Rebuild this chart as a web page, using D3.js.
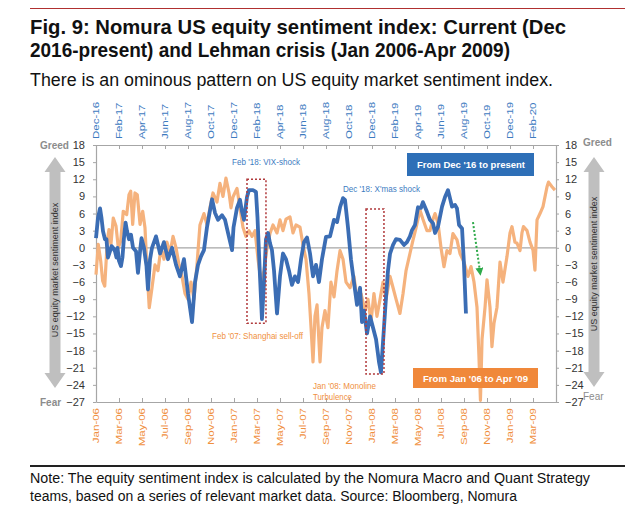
<!DOCTYPE html>
<html><head><meta charset="utf-8">
<script src="https://cdn.jsdelivr.net/npm/d3@7"></script>
<style>body{margin:0;background:#fff}svg{display:block}</style>
</head><body>
<svg id="c" width="631" height="524"></svg>
<script>
// ---- tick labels ----
const topTickLabels = ["Dec-16","Feb-17","Apr-17","Jun-17","Aug-17","Oct-17","Dec-17","Feb-18","Apr-18","Jun-18","Aug-18","Oct-18","Dec-18","Feb-19","Apr-19","Jun-19","Aug-19","Oct-19","Dec-19","Feb-20"];
const bottomTickLabels = ["Jan-06","Mar-06","May-06","Jul-06","Sep-06","Nov-06","Jan-07","Mar-07","May-07","Jul-07","Sep-07","Nov-07","Jan-08","Mar-08","May-08","Jul-08","Sep-08","Nov-08","Jan-09","Mar-09"];
const yTicks = [18,15,12,9,6,3,0,-3,-6,-9,-12,-15,-18,-21,-24,-27];

// ---- series: [months since Dec 2016, index] ----
const currentSeries = [[0,1.7],[0.17,5.2],[0.35,6.9],[0.48,5.2],[0.61,2.9],[0.78,1.5],[0.91,1.5],[1.04,-1.7],[1.22,-0.6],[1.35,0.3],[1.48,0],[1.65,-0.6],[1.78,-1.7],[1.87,0],[2.00,-2.3],[2.17,-3.2],[2.30,-1.7],[2.43,1.7],[2.57,4.4],[2.70,2.9],[2.87,1.5],[3.04,2.3],[3.22,0],[3.48,-0.6],[3.65,-4.4],[3.83,-0.6],[3.96,1.7],[4.17,0],[4.39,-3.2],[4.52,-7.3],[4.70,-2],[4.87,0],[5.22,2],[5.57,-1],[5.91,1],[6.26,-2],[6.61,0],[6.96,-3],[7.30,-5],[7.65,-2],[8.00,-8],[8.35,-13],[8.61,-6],[8.87,-3],[9.13,-1.5],[9.39,-0.4],[9.65,3.6],[10.09,8.5],[10.35,6.1],[10.61,4.9],[10.96,5.7],[11.22,4.9],[11.48,2.6],[11.83,-0.4],[11.96,3.6],[12.26,7],[12.52,8.4],[12.70,6.3],[12.87,4.9],[13.13,8.9],[13.30,10.1],[13.65,10.1],[13.91,9.8],[14.04,5.4],[14.26,-5],[14.43,-12.5],[14.61,-6],[14.78,1.5],[14.96,2.6],[15.13,0.8],[15.30,-0.4],[15.48,-4],[15.74,-11.5],[16.00,-5],[16.26,-1],[16.52,-2],[16.78,-4],[17.04,-6.5],[17.30,-5],[17.57,-6],[17.83,-2],[18.09,1],[18.35,1.8],[18.61,-1],[18.87,-5],[19.13,-3],[19.39,-6],[19.65,-2],[20.00,1.9],[20.35,2],[20.70,4.9],[20.96,4.5],[21.22,7.1],[21.48,8.7],[21.65,8.4],[21.91,3.6],[22.17,-2],[22.43,-6],[22.70,-10],[22.96,-7],[23.13,-13],[23.30,-11],[23.57,-15],[23.83,-12],[24.09,-14],[24.35,-16],[24.61,-20],[24.78,-21.8],[25.04,-14],[25.22,-8.6],[25.39,-4],[25.57,-1],[25.83,0.5],[26.09,1.5],[26.43,1.4],[26.78,0.5],[27.04,1],[27.30,2],[27.48,3.1],[27.74,4],[28.00,7.1],[28.26,7],[28.43,8],[28.78,6.3],[29.04,4.9],[29.30,4.3],[29.48,2.6],[29.74,3.7],[30.09,7.2],[30.35,8.9],[30.61,10.1],[30.78,8.7],[30.96,7.2],[31.22,7.5],[31.39,6.9],[31.57,4],[31.83,3.4],[32.00,-3],[32.17,-11.5]];

// ---- series: [months since Jan 2006, index] ----
const lehmanSeries = [[0,-4.7],[0.20,0.6],[0.41,-2.3],[0.58,-5.8],[0.76,-6.7],[0.98,1.2],[1.13,3.2],[1.30,0.6],[1.50,5.2],[1.74,3.8],[1.94,0],[2.15,1.2],[2.37,6.4],[2.67,5.8],[2.87,9.3],[3.02,9.9],[3.19,4.1],[3.39,9.6],[3.59,9.3],[3.83,4.1],[4.06,6.4],[4.26,3.5],[4.46,-4.7],[4.63,-10.5],[4.87,-7],[5.13,-3],[5.39,-4],[5.65,0],[5.91,-2],[6.17,1],[6.43,-1],[6.70,2],[6.96,0],[7.22,-3],[7.48,-5],[7.74,-8],[8.00,-9],[8.26,-6],[8.52,-9],[8.78,-3],[9.04,4],[9.39,6],[9.65,4],[9.91,7],[10.17,9.6],[10.52,8],[10.78,11.3],[11.04,9],[11.30,12.2],[11.57,9.6],[11.74,7],[11.91,8.9],[12.26,10.4],[12.52,7],[12.78,3.6],[13.04,2],[13.30,3],[13.57,2],[13.83,3],[14.09,-2],[14.35,-6],[14.61,-4],[14.87,0],[15.13,2.5],[15.39,4],[15.74,2.6],[16.00,4.9],[16.26,3],[16.52,5],[16.87,5.4],[17.13,2.6],[17.39,4],[17.74,3.6],[18.00,0.5],[18.26,-2],[18.52,-8],[18.70,-14],[18.87,-20],[19.04,-12],[19.22,-10],[19.48,-20],[19.65,-14],[19.91,-11],[20.17,-14],[20.43,-6],[20.70,-8.6],[20.96,-4],[21.22,-0.5],[21.48,-2],[21.74,-6],[22.09,-7],[22.43,-5],[22.70,-9],[23.04,-8],[23.39,-11],[23.65,-9],[23.91,-13],[24.17,-8],[24.43,-12],[24.70,-9],[24.96,-6],[25.22,-9],[25.57,-5],[25.83,-7],[26.09,-9],[26.43,-11.5],[26.70,-8],[26.96,-4],[27.30,-1],[27.57,1.4],[27.83,3.5],[28.17,6.6],[28.43,5],[28.78,3],[29.04,3],[29.30,5],[29.48,6],[29.74,4.3],[30.00,0],[30.26,-3.3],[30.52,-0.5],[30.78,-1],[31.04,2.5],[31.39,1.4],[31.65,-1],[32.00,-2.5],[32.35,-5],[32.61,-3.3],[32.87,-6],[33.13,-10.4],[33.30,-19],[33.43,-26.7],[33.57,-16],[33.83,-10.4],[34.00,-5.6],[34.26,-10.4],[34.43,-17.3],[34.61,-13.2],[34.87,-10.4],[35.13,-2.5],[35.39,-6],[35.74,-1.5],[36.00,2.6],[36.17,3.7],[36.43,1],[36.61,0.8],[36.87,-0.5],[37.04,2.6],[37.17,3.7],[37.48,3],[37.74,1],[38.00,-0.4],[38.17,-3.9],[38.35,4.9],[38.61,6],[38.87,7.2],[39.22,10.7],[39.35,11.5],[39.65,10.7],[39.91,10.1]];

// ---- event boxes: [month start, month end, value top, value bottom] ----
const vixBox = [13.13, 14.78, 12.0, -13.2];
const xmasBox = [23.48, 25.04, 6.8, -22.1];
const greenArrow = [[32.78, 4.5], [33.39, -4.2]];

// ---- styles ----
const FONT = "'Liberation Sans', Arial, sans-serif";
const BLUE = "#3b6db4", ORANGE = "#f5b27d";
const BLUE_TXT = "#3d7bbf", ORANGE_TXT = "#f0903e";
const GRID = "#a6a6a6";

const svg = d3.select("#c");
const M = {l:96, r:556, t:145, b:402};
const x = d3.scaleLinear().domain([0, 40]).range([M.l, M.r]);
const y = d3.scaleLinear().domain([-27, 18]).range([M.b, M.t]);

function addText(p, o) {
  const t = p.append("text").attr("x", o.x).attr("y", o.y).text(o.text)
    .attr("font-size", o.size).attr("font-family", o.family || FONT)
    .attr("font-weight", o.weight || "normal").attr("fill", o.fill || "#000")
    .attr("text-anchor", o.anchor || "start");
  if (o.width) t.attr("textLength", o.width).attr("lengthAdjust", "spacingAndGlyphs");
  return t;
}

// ---- header ----
svg.append("line").attr("x1",30).attr("x2",625).attr("y1",8.5).attr("y2",8.5).attr("stroke","#b03030").attr("stroke-width",1);
addText(svg,{x:30,y:34,text:"Fig. 9: Nomura US equity sentiment index: Current (Dec",size:20.5,weight:"bold",fill:"#111",width:536});
addText(svg,{x:30,y:57,text:"2016-present) and Lehman crisis (Jan 2006-Apr 2009)",size:20.5,weight:"bold",fill:"#111",width:480});
addText(svg,{x:30,y:86,text:"There is an ominous pattern on US equity market sentiment index.",size:17.5,fill:"#111",width:523});

// ---- axes ----
const tickMonths = d3.range(0, 40, 2);
const gTop = svg.append("g").attr("transform",`translate(0,${M.t})`)
  .call(d3.axisTop(x).tickValues(tickMonths).tickFormat("").tickSizeInner(-4).tickSizeOuter(0));
const gBot = svg.append("g").attr("transform",`translate(0,${M.b})`)
  .call(d3.axisBottom(x).tickValues(tickMonths).tickFormat("").tickSizeInner(-4).tickSizeOuter(0));
const gL = svg.append("g").attr("transform",`translate(${M.l},0)`)
  .call(d3.axisLeft(y).tickValues(yTicks).tickSizeInner(3).tickSizeOuter(0).tickPadding(8));
const gR = svg.append("g").attr("transform",`translate(${M.r},0)`)
  .call(d3.axisRight(y).tickValues(yTicks).tickSizeInner(3).tickSizeOuter(0).tickPadding(6));
[gTop,gBot,gL,gR].forEach(g=>{
  g.select(".domain").attr("stroke",GRID).attr("stroke-width",1.2);
  g.selectAll(".tick line").attr("stroke",GRID);
});
[gL,gR].forEach(g=>g.selectAll(".tick text").attr("font-family",FONT).attr("font-size",11).attr("fill","#333"));

// rotated month labels
svg.append("g").selectAll("text").data(tickMonths).join("text")
  .attr("transform", d=>`translate(${x(d)},${M.t-6}) scale(0.8,1) rotate(-90)`)
  .attr("dy","0.35em").attr("text-anchor","start")
  .attr("font-family",FONT).attr("font-size",11.5).attr("fill",BLUE_TXT)
  .text((d,i)=>topTickLabels[i]);
svg.append("g").selectAll("text").data(tickMonths).join("text")
  .attr("transform", d=>`translate(${x(d)},${M.b+6}) scale(0.8,1) rotate(-90)`)
  .attr("dy","0.35em").attr("text-anchor","end")
  .attr("font-family",FONT).attr("font-size",11.5).attr("fill",ORANGE_TXT)
  .text((d,i)=>bottomTickLabels[i]);

// zero line
svg.append("line").attr("x1",M.l).attr("x2",M.r).attr("y1",y(0)).attr("y2",y(0)).attr("stroke",GRID).attr("stroke-width",1.3);

// ---- side arrows ----
function dblArrow(cx, y1, y2, hw, hl, sw) {
  return `M${cx},${y1} L${cx+hw/2},${y1+hl} L${cx+sw/2},${y1+hl} L${cx+sw/2},${y2-hl} L${cx+hw/2},${y2-hl} L${cx},${y2} L${cx-hw/2},${y2-hl} L${cx-sw/2},${y2-hl} L${cx-sw/2},${y1+hl} L${cx-hw/2},${y1+hl} Z`;
}
svg.append("path").attr("d",dblArrow(55,157,388,21,15,11)).attr("fill","#bfbfbf");
svg.append("path").attr("d",dblArrow(594,157,387,21,15,11)).attr("fill","#bfbfbf");
svg.append("text").attr("transform","translate(58,270) rotate(-90)").attr("text-anchor","middle")
  .attr("font-family",FONT).attr("font-size",9).attr("fill","#333").text("US equity market sentiment index");
svg.append("text").attr("transform","translate(597,264) rotate(-90)").attr("text-anchor","middle")
  .attr("font-family",FONT).attr("font-size",9).attr("fill","#333").text("US equity market sentiment index");
addText(svg,{x:40,y:149,text:"Greed",size:10,weight:"bold",fill:"#8c8c8c"});
addText(svg,{x:40,y:406,text:"Fear",size:10,weight:"bold",fill:"#8c8c8c"});
addText(svg,{x:583,y:146,text:"Greed",size:10,weight:"bold",fill:"#8c8c8c"});
addText(svg,{x:583,y:400,text:"Fear",size:10,fill:"#8c8c8c"});

// ---- lines ----
const line = d3.line().x(d=>x(d[0])).y(d=>y(d[1]));
svg.append("path").datum(lehmanSeries).attr("d",line).attr("fill","none")
  .attr("stroke",ORANGE).attr("stroke-width",3.2).attr("stroke-linejoin","round");
svg.append("path").datum(currentSeries).attr("d",line).attr("fill","none")
  .attr("stroke",BLUE).attr("stroke-width",3.8).attr("stroke-linejoin","round");

// ---- event boxes ----
[vixBox, xmasBox].forEach(b=>{
  svg.append("rect").attr("x",x(b[0])).attr("y",y(b[2])).attr("width",x(b[1])-x(b[0])).attr("height",y(b[3])-y(b[2]))
    .attr("fill","none").attr("stroke","#b0393b").attr("stroke-width",1.5).attr("stroke-dasharray","2,2");
});

// green dotted arrow
const defs = svg.append("defs");
defs.append("marker").attr("id","gh").attr("viewBox","0 0 10 10").attr("refX",5).attr("refY",5)
  .attr("markerWidth",4).attr("markerHeight",4).attr("orient","auto")
  .append("path").attr("d","M0,0 L10,5 L0,10 Z").attr("fill","#2eaa4a");
svg.append("line").attr("x1",x(greenArrow[0][0])).attr("y1",y(greenArrow[0][1]))
  .attr("x2",x(greenArrow[1][0])).attr("y2",y(greenArrow[1][1]))
  .attr("stroke","#2eaa4a").attr("stroke-width",2).attr("stroke-dasharray","2,2").attr("marker-end","url(#gh)");

// ---- annotations ----
addText(svg,{x:232,y:165,text:"Feb '18: VIX-shock",size:9,fill:BLUE_TXT,width:68});
addText(svg,{x:343,y:192,text:"Dec '18: X'mas shock",size:9,fill:BLUE_TXT,width:77});
addText(svg,{x:212,y:339,text:"Feb '07: Shanghai sell-off",size:9,fill:ORANGE_TXT,width:91});
addText(svg,{x:313,y:389,text:"Jan '08: Monoline",size:9,fill:ORANGE_TXT,width:63});
addText(svg,{x:313,y:400,text:"Turbulence",size:9,fill:ORANGE_TXT,width:39});

svg.append("rect").attr("x",407).attr("y",153).attr("width",127).attr("height",23).attr("fill","#2e6fb7");
addText(svg,{x:471,y:168,text:"From Dec '16 to present",size:9.5,weight:"bold",fill:"#fff",anchor:"middle",width:108});
svg.append("rect").attr("x",413).attr("y",368).attr("width",125).attr("height",20).attr("fill","#f0883a");
addText(svg,{x:475.5,y:382,text:"From Jan '06 to Apr '09",size:9.5,weight:"bold",fill:"#fff",anchor:"middle",width:105});

// ---- footer ----
svg.append("line").attr("x1",30).attr("x2",625).attr("y1",466).attr("y2",466).attr("stroke","#222").attr("stroke-width",2);
addText(svg,{x:30,y:483,text:"Note: The equity sentiment index is calculated by the Nomura Macro and Quant Strategy",size:14,fill:"#111",width:560});
addText(svg,{x:30,y:501,text:"teams, based on a series of relevant market data. Source: Bloomberg, Nomura",size:14,fill:"#111",width:487});
</script>
</body></html>
